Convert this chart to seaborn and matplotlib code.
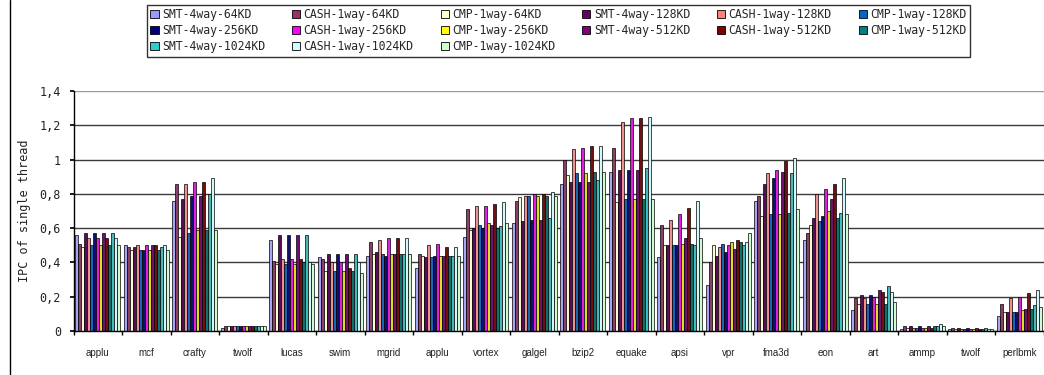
import numpy as np
import pandas as pd
import matplotlib
matplotlib.use("Agg")
import matplotlib.pyplot as plt
from matplotlib.patches import Patch
from matplotlib.ticker import FuncFormatter, FixedLocator
import seaborn as sns

benchmarks = ["applu", "mcf", "crafty", "twolf", "lucas", "swim", "mgrid", "applu",
              "vortex", "galgel", "bzip2", "equake", "apsi", "vpr", "fma3d", "eon",
              "art", "ammp", "twolf", "perlbmk"]

configs = ["SMT-4way-64KD", "CASH-1way-64KD", "CMP-1way-64KD",
           "SMT-4way-128KD", "CASH-1way-128KD", "CMP-1way-128KD",
           "SMT-4way-256KD", "CASH-1way-256KD", "CMP-1way-256KD",
           "SMT-4way-512KD", "CASH-1way-512KD", "CMP-1way-512KD",
           "SMT-4way-1024KD", "CASH-1way-1024KD", "CMP-1way-1024KD"]

colors = ["#9999FF", "#993366", "#FFFFCC",
          "#660066", "#FF8080", "#0066CC",
          "#000080", "#FF00FF", "#FFFF00",
          "#800080", "#800000", "#008080",
          "#33CCCC", "#CCFFFF", "#CCFFCC"]

# IPC per benchmark, one value per config (same order as `configs`)
applu   = [0.56, 0.51, 0.49, 0.57, 0.54, 0.50, 0.57, 0.54, 0.50, 0.57, 0.54, 0.50, 0.57, 0.54, 0.50]
mcf     = [0.50, 0.49, 0.47, 0.49, 0.50, 0.47, 0.47, 0.50, 0.47, 0.50, 0.50, 0.47, 0.49, 0.50, 0.47]
crafty  = [0.76, 0.86, 0.55, 0.77, 0.86, 0.57, 0.79, 0.87, 0.59, 0.79, 0.87, 0.59, 0.80, 0.89, 0.59]
twolf   = [0.02, 0.03, 0.03, 0.03, 0.03, 0.03, 0.03, 0.03, 0.03, 0.03, 0.03, 0.03, 0.03, 0.03, 0.03]
lucas   = [0.53, 0.41, 0.39, 0.56, 0.42, 0.39, 0.56, 0.42, 0.39, 0.56, 0.42, 0.40, 0.56, 0.40, 0.39]
swim    = [0.43, 0.42, 0.35, 0.45, 0.40, 0.35, 0.45, 0.40, 0.35, 0.45, 0.37, 0.35, 0.45, 0.40, 0.34]
mgrid   = [0.44, 0.52, 0.45, 0.46, 0.53, 0.45, 0.44, 0.54, 0.45, 0.45, 0.54, 0.45, 0.45, 0.54, 0.45]
applu2  = [0.37, 0.45, 0.44, 0.43, 0.50, 0.43, 0.44, 0.51, 0.44, 0.44, 0.49, 0.44, 0.44, 0.49, 0.44]
vortex  = [0.55, 0.71, 0.59, 0.60, 0.73, 0.62, 0.60, 0.73, 0.63, 0.62, 0.74, 0.60, 0.61, 0.75, 0.63]
galgel  = [0.63, 0.76, 0.78, 0.64, 0.79, 0.79, 0.65, 0.80, 0.79, 0.65, 0.80, 0.79, 0.66, 0.81, 0.79]
bzip2   = [0.86, 1.00, 0.91, 0.87, 1.06, 0.92, 0.87, 1.07, 0.92, 0.87, 1.08, 0.93, 0.88, 1.08, 0.93]
equake  = [0.93, 1.07, 0.75, 0.94, 1.22, 0.77, 0.94, 1.24, 0.77, 0.94, 1.24, 0.77, 0.95, 1.25, 0.77]
apsi    = [0.43, 0.62, 0.50, 0.50, 0.65, 0.50, 0.50, 0.68, 0.51, 0.54, 0.72, 0.51, 0.50, 0.76, 0.54]
vpr     = [0.27, 0.40, 0.50, 0.44, 0.49, 0.51, 0.46, 0.50, 0.52, 0.48, 0.53, 0.52, 0.50, 0.52, 0.57]
fma3d   = [0.76, 0.79, 0.67, 0.86, 0.92, 0.68, 0.89, 0.94, 0.68, 0.93, 0.99, 0.69, 0.92, 1.01, 0.71]
eon     = [0.53, 0.57, 0.62, 0.66, 0.80, 0.64, 0.67, 0.83, 0.70, 0.77, 0.86, 0.66, 0.69, 0.89, 0.68]
art     = [0.12, 0.19, 0.16, 0.21, 0.19, 0.16, 0.21, 0.20, 0.16, 0.24, 0.23, 0.16, 0.26, 0.23, 0.17]
ammp    = [0.01, 0.03, 0.02, 0.03, 0.02, 0.02, 0.03, 0.02, 0.02, 0.03, 0.02, 0.03, 0.03, 0.04, 0.03]
twolf2  = [0.01, 0.015, 0.01, 0.015, 0.01, 0.01, 0.015, 0.01, 0.01, 0.015, 0.01, 0.01, 0.015, 0.01, 0.01]
perlbmk = [0.09, 0.16, 0.11, 0.11, 0.19, 0.11, 0.11, 0.20, 0.12, 0.13, 0.22, 0.13, 0.15, 0.24, 0.14]

rows = [applu, mcf, crafty, twolf, lucas, swim, mgrid, applu2, vortex, galgel,
        bzip2, equake, apsi, vpr, fma3d, eon, art, ammp, twolf2, perlbmk]

# benchmark names repeat (applu, twolf), so use a unique slot id as the category
records = []
for i, vals in enumerate(rows):
    for cfg, v in zip(configs, vals):
        records.append({"slot": f"b{i:02d}", "config": cfg, "ipc": v})
df = pd.DataFrame(records)

sns.set_theme(style="white")
plt.rcParams["font.family"] = ["DejaVu Sans"]

W, H = 1044, 375
fig = plt.figure(figsize=(W / 100, H / 100), dpi=100)
ax = fig.add_axes([73.5 / W, (H - 331) / H, 970 / W, 240 / H])

sns.barplot(data=df, x="slot", y="ipc", hue="config", hue_order=configs,
            palette=colors, width=0.93, edgecolor="black", linewidth=0.5,
            legend=False, ax=ax)

ax.set_xlim(-0.5, len(benchmarks) - 0.5)
ax.set_ylim(0, 1.4)
ax.set_yticks(np.arange(0, 1.41, 0.2))
ax.yaxis.set_major_formatter(FuncFormatter(
    lambda v, p: "0" if abs(v) < 1e-9 else ("1" if abs(v - 1) < 1e-9 else f"{v:.1f}".replace(".", ","))))
ax.grid(axis="y", color="#3a3a3a", linewidth=1.0)
ax.set_axisbelow(True)
# top border of the plot area is lighter than the gridlines
gl = ax.get_ygridlines()
gl[-1].set_color("#9a9a9a")

ax.set_xticks(range(len(benchmarks)))
ax.set_xticklabels(benchmarks, fontsize=7, family="Liberation Sans", color="#222222")
ax.xaxis.set_minor_locator(FixedLocator(np.arange(-0.5, len(benchmarks), 1.0)))
ax.tick_params(axis="x", which="major", length=0, pad=12)
ax.tick_params(axis="x", which="minor", length=3, color="black", direction="out", bottom=True)
ax.tick_params(axis="y", length=3, direction="out", left=True, color="black", pad=6)
for lab in ax.get_yticklabels():
    lab.set_family("DejaVu Sans Mono")
    lab.set_fontsize(8.5)
    lab.set_color("#222222")

ax.set_xlabel("")
ax.set_ylabel("IPC of single thread", family="DejaVu Sans Mono", fontsize=8.5,
              color="#222222", labelpad=6)

for side in ["top", "right"]:
    ax.spines[side].set_visible(False)
ax.spines["left"].set_color("black")
ax.spines["left"].set_linewidth(1.0)
ax.spines["bottom"].set_color("black")
ax.spines["bottom"].set_linewidth(1.0)

# outer chart-area border on the left
fig.add_artist(plt.Line2D([10 / W, 10 / W], [0, 1], color="black", linewidth=1.0,
                          transform=fig.transFigure))

# legend filled row-wise like the original (matplotlib fills column-wise)
ncol = 6
order = [r * ncol + c for c in range(ncol) for r in range(3) if r * ncol + c < len(configs)]
handles = [Patch(facecolor=colors[k], edgecolor="black", linewidth=0.6, label=configs[k])
           for k in order]
leg = fig.legend(handles=handles, ncol=ncol, loc="upper left",
                 bbox_to_anchor=(147 / W, (H - 62) / H, (970 - 147) / W, (62 - 5) / H),
                 mode="expand", frameon=True, fancybox=False, borderaxespad=0,
                 handlelength=0.7, handleheight=0.7, handletextpad=0.3,
                 labelspacing=0.25, borderpad=0.3,
                 prop={"family": "DejaVu Sans Mono", "size": 8.3})
leg.get_frame().set_edgecolor("black")
leg.get_frame().set_linewidth(1.0)

fig.savefig("out.png", dpi=100, facecolor="white")
